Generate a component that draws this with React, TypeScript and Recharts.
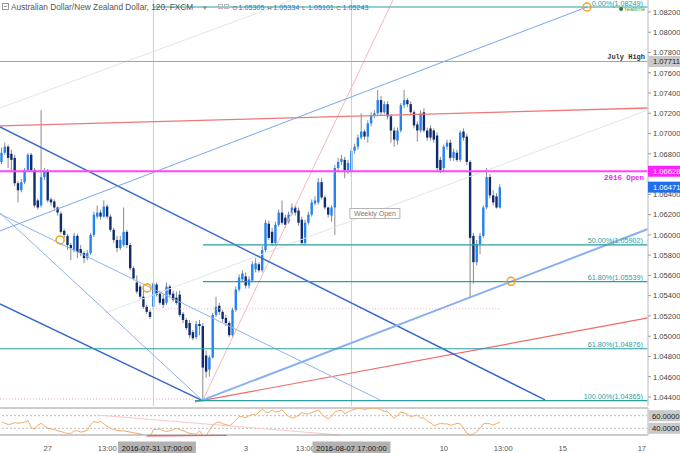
import React from 'react';
import { ComposedChart, LineChart, Bar, Line, XAxis, YAxis, ReferenceLine, ReferenceDot } from 'recharts';

const OPEN = [1.0672,1.0681,1.0687,1.0680,1.0676,1.0651,1.0644,1.0652,1.0664,1.0679,
1.0664,1.0634,1.0629,1.0657,1.0663,1.0635,1.0633,1.0627,1.0621,1.0604,
1.0599,1.0590,1.0585,1.0599,1.0586,1.0582,1.0577,1.0582,1.0600,1.0618,
1.0622,1.0618,1.0628,1.0618,1.0605,1.0595,1.0587,1.0590,1.0603,1.0590,
1.0567,1.0553,1.0549,1.0539,1.0529,1.0524,1.0529,1.0551,1.0542,1.0537,
1.0533,1.0549,1.0542,1.0538,1.0541,1.0522,1.0516,1.0513,1.0504,1.0499,
1.0512,1.0510,1.0481,1.0467,1.0479,1.0521,1.0530,1.0524,1.0518,1.0513,
1.0501,1.0526,1.0546,1.0556,1.0559,1.0550,1.0555,1.0566,1.0571,1.0565,
1.0585,1.0611,1.0603,1.0592,1.0610,1.0622,1.0617,1.0613,1.0621,1.0627,
1.0624,1.0615,1.0592,1.0612,1.0620,1.0631,1.0632,1.0652,1.0637,1.0627,
1.0619,1.0627,1.0666,1.0672,1.0674,1.0664,1.0662,1.0683,1.0687,1.0696,
1.0702,1.0697,1.0710,1.0718,1.0720,1.0733,1.0721,1.0729,1.0717,1.0703,
1.0693,1.0703,1.0728,1.0733,1.0729,1.0721,1.0709,1.0703,1.0721,1.0703,
1.0705,1.0703,1.0698,1.0674,1.0666,1.0687,1.0691,1.0676,1.0681,1.0674,
1.0702,1.0697,1.0672,1.0599,1.0573,1.0591,1.0599,1.0627,1.0657,1.0639,
1.0638,1.0627];

const HIGH = [1.0686,1.0691,1.0689,1.0684,1.0679,1.0653,1.0655,1.0666,1.0681,1.0681,
1.0666,1.0636,1.0723,1.0666,1.0665,1.0637,1.0635,1.0628,1.0623,1.0606,
1.0601,1.0592,1.0602,1.0601,1.0590,1.0584,1.0585,1.0602,1.0623,1.0629,
1.0625,1.0634,1.0630,1.0620,1.0607,1.0599,1.0599,1.0627,1.0605,1.0592,
1.0569,1.0560,1.0551,1.0548,1.0531,1.0526,1.0554,1.0553,1.0545,1.0541,
1.0553,1.0551,1.0545,1.0544,1.0545,1.0524,1.0518,1.0516,1.0506,1.0515,
1.0516,1.0513,1.0486,1.0481,1.0523,1.0539,1.0533,1.0526,1.0521,1.0515,
1.0528,1.0549,1.0561,1.0565,1.0563,1.0559,1.0574,1.0577,1.0573,1.0589,
1.0615,1.0614,1.0607,1.0613,1.0625,1.0634,1.0620,1.0623,1.0631,1.0629,
1.0627,1.0618,1.0615,1.0623,1.0635,1.0638,1.0656,1.0656,1.0639,1.0628,
1.0629,1.0669,1.0676,1.0679,1.0677,1.0674,1.0686,1.0690,1.0699,1.0720,
1.0704,1.0713,1.0721,1.0723,1.0743,1.0737,1.0732,1.0732,1.0719,1.0706,
1.0706,1.0730,1.0743,1.0735,1.0732,1.0723,1.0712,1.0723,1.0725,1.0706,
1.0708,1.0705,1.0701,1.0677,1.0689,1.0694,1.0694,1.0685,1.0684,1.0703,
1.0705,1.0700,1.0674,1.0602,1.0595,1.0602,1.0629,1.0666,1.0660,1.0644,
1.0641,1.0650];

const LOW = [1.0670,1.0679,1.0666,1.0662,1.0648,1.0632,1.0642,1.0650,1.0663,1.0662,
1.0627,1.0625,1.0627,1.0654,1.0632,1.0629,1.0625,1.0619,1.0601,1.0597,
1.0585,1.0575,1.0583,1.0577,1.0579,1.0572,1.0575,1.0580,1.0598,1.0616,
1.0615,1.0617,1.0616,1.0603,1.0592,1.0583,1.0585,1.0588,1.0587,1.0565,
1.0555,1.0542,1.0537,1.0527,1.0522,1.0517,1.0526,1.0539,1.0531,1.0528,
1.0531,1.0539,1.0534,1.0531,1.0519,1.0513,1.0506,1.0498,1.0496,1.0497,
1.0501,1.0436,1.0459,1.0460,1.0478,1.0519,1.0521,1.0514,1.0510,1.0499,
1.0499,1.0524,1.0544,1.0553,1.0547,1.0547,1.0553,1.0563,1.0563,1.0563,
1.0583,1.0595,1.0589,1.0590,1.0608,1.0610,1.0607,1.0611,1.0619,1.0619,
1.0609,1.0590,1.0590,1.0610,1.0618,1.0629,1.0630,1.0635,1.0625,1.0617,
1.0613,1.0600,1.0663,1.0669,1.0656,1.0660,1.0657,1.0680,1.0684,1.0694,
1.0694,1.0691,1.0707,1.0715,1.0717,1.0718,1.0719,1.0714,1.0691,1.0687,
1.0689,1.0701,1.0725,1.0726,1.0718,1.0705,1.0692,1.0701,1.0701,1.0693,
1.0693,1.0691,1.0662,1.0661,1.0663,1.0684,1.0673,1.0673,1.0672,1.0672,
1.0693,1.0669,1.0538,1.0552,1.0570,1.0581,1.0597,1.0625,1.0636,1.0629,
1.0626,1.0626];

const CLOSE = [1.0681,1.0687,1.0676,1.0674,1.0651,1.0644,1.0652,1.0664,1.0679,1.0664,
1.0629,1.0627,1.0657,1.0663,1.0634,1.0632,1.0627,1.0622,1.0603,1.0600,
1.0590,1.0587,1.0599,1.0583,1.0582,1.0577,1.0582,1.0600,1.0620,1.0622,
1.0618,1.0628,1.0618,1.0605,1.0595,1.0587,1.0595,1.0603,1.0590,1.0567,
1.0557,1.0544,1.0539,1.0529,1.0524,1.0519,1.0552,1.0541,1.0533,1.0531,
1.0549,1.0541,1.0536,1.0533,1.0521,1.0516,1.0508,1.0501,1.0498,1.0512,
1.0510,1.0469,1.0465,1.0479,1.0521,1.0529,1.0524,1.0517,1.0513,1.0501,
1.0526,1.0546,1.0558,1.0562,1.0550,1.0556,1.0571,1.0572,1.0565,1.0585,
1.0612,1.0597,1.0592,1.0610,1.0622,1.0612,1.0610,1.0620,1.0627,1.0622,
1.0612,1.0592,1.0612,1.0620,1.0632,1.0634,1.0652,1.0637,1.0627,1.0620,
1.0627,1.0666,1.0672,1.0675,1.0664,1.0671,1.0683,1.0687,1.0696,1.0702,
1.0697,1.0710,1.0718,1.0720,1.0733,1.0721,1.0729,1.0717,1.0703,1.0694,
1.0703,1.0728,1.0733,1.0729,1.0721,1.0708,1.0703,1.0720,1.0703,1.0696,
1.0696,1.0694,1.0666,1.0664,1.0687,1.0691,1.0676,1.0682,1.0674,1.0701,
1.0696,1.0672,1.0597,1.0573,1.0591,1.0599,1.0627,1.0657,1.0639,1.0632,
1.0627,1.0647];

const RSI = [50,48,46,47,49,48,49,50,52,41,
39,45,48,44,40,39,38,36,35,33,
32,32,36,36,34,35,37,46,51,49,
51,47,43,40,38,37,36,36,35,34,
33,32,31,29,28,26,38,38,39,36,
35,36,38,40,38,36,34,32,31,31,
36,28,29,37,45,49,50,47,46,44,
48,53,59,58,57,60,62,61,66,70,
66,65,69,66,67,69,63,59,56,58,
61,65,63,63,65,67,69,62,58,55,
59,66,68,69,63,66,69,70,72,71,
70,71,72,72,72,69,67,66,61,56,
61,66,64,62,58,60,61,56,57,51,
49,44,46,48,47,47,45,46,48,47,
40,32,29.5,31,35,40,47,48,47,45,
48,49];

const PRICE_TICKS = [1.044,1.046,1.048,1.05,1.052,1.054,1.056,1.058,1.06,1.062,1.064,1.066,1.068,1.07,1.072,1.074,1.076,1.078,1.08,1.082];
const TAG_PRICES = [1.07711, 1.06628, 1.06471];
const TAG_NAMES = ['july', 'open2016', 'last'];
const TIME_TICKS = [14, 32, 46, 74, 92, 106, 134, 152, 170, 194];
const TIME_LABELS = ['27', '13:00', '2016-07-31 17:00:00', '3', '13:00', '2016-08-07 17:00:00', '10', '13:00', '15', '17'];
const HIGHLIGHTED_TICKS = [46, 106];
const HEADER_OHLC_LETTERS = ['O', 'H', 'L', 'C'];
const HEADER_OHLC_VALUES = ['1.05305', '1.05334', '1.05101', '1.05243'];

const X_DOMAIN: [number, number] = [-0.5, 195.86];
const Y_DOMAIN: [number, number] = [1.04311, 1.08318];
const RSI_DOMAIN: [number, number] = [29.4, 72.2];

const data = CLOSE.map((c, i) => ({ i, o: OPEN[i], h: HIGH[i], l: LOW[i], c, rsi: RSI[i] }));

const FONT = 'Arial, "Liberation Sans", sans-serif';
const MONO = '"Liberation Mono", "DejaVu Sans Mono", monospace';
const BULL = '#2383f2';
const BEAR = '#0f2d6e';
const TEAL = '#2a9ea3';
const TAG_STYLE: Record<string, { bg: string; fg: string }> = {
  july: { bg: '#c9c9c9', fg: '#222' },
  open2016: { bg: '#ff22ff', fg: '#fff' },
  last: { bg: '#1f6fec', fg: '#fff' },
};

const Candle = (props: any) => {
  const { x, y, width, height } = props;
  const p = props.payload || props;
  const top = Math.min(y, y + height);
  const bot = Math.max(y, y + height);
  const span = p.h - p.l || 1e-9;
  const py = (v: number) => top + ((p.h - v) / span) * (bot - top);
  const cx = x + width / 2;
  const up = p.c >= p.o;
  const b1 = py(Math.max(p.o, p.c));
  const b2 = py(Math.min(p.o, p.c));
  return (
    <g>
      <line x1={cx} x2={cx} y1={top} y2={bot} stroke="#8a8a8a" strokeWidth={1} />
      <rect x={cx - 1.2} y={b1} width={2.4} height={Math.max(1, b2 - b1)} fill={up ? BULL : BEAR} />
    </g>
  );
};

const PriceTick = (props: any) => {
  const { x, y, payload } = props;
  const v = payload.value;
  const t = TAG_PRICES.indexOf(v);
  if (t >= 0) {
    const s = TAG_STYLE[TAG_NAMES[t]];
    return (
      <g>
        <rect x={x - 5} y={y - 5.5} width={38} height={11} fill={s.bg} />
        <text x={x} y={y + 2.8} fontSize={7.6} fontFamily={FONT} fill={s.fg}>{v.toFixed(5)}</text>
      </g>
    );
  }
  if (TAG_PRICES.some((tp) => Math.abs(tp - v) < 0.0005)) return <g />;
  return <text x={x} y={y + 2.8} fontSize={7.6} fontFamily={FONT} fill="#444">{v.toFixed(5)}</text>;
};

const AxisTag = (props: any) => {
  const { viewBox, text, bg, fg } = props;
  if (!viewBox) return null;
  const x0 = viewBox.x + viewBox.width;
  const y = viewBox.y;
  return (
    <g>
      <rect x={x0} y={y - 5.5} width={34} height={11} fill={bg} />
      <text x={x0 + 4} y={y + 3} fontSize={7.6} fontFamily={FONT} fill={fg}>{text}</text>
    </g>
  );
};

const LineText = (props: any) => {
  const { viewBox, text, color, dy, size, bold, family, dx } = props;
  if (!viewBox) return null;
  return (
    <text x={viewBox.x + viewBox.width - (dx ?? 5)} y={viewBox.y + dy} textAnchor="end" fontSize={size}
      fontWeight={bold ? 'bold' : 'normal'} fontFamily={family || FONT} fill={color}>{text}</text>
  );
};

const TimeTick = (props: any) => {
  const { x, payload } = props;
  const idx = TIME_TICKS.indexOf(payload.value);
  const label = TIME_LABELS[idx];
  if (HIGHLIGHTED_TICKS.includes(payload.value)) {
    const shift = idx === 2 ? 3.5 : 0;
    return (
      <g>
        <rect x={x + shift - 39} y={35.5} width={78} height={11.5} fill="#b2b2b2" />
        <text x={x + shift} y={44.5} textAnchor="middle" fontSize={7.6} fontFamily={FONT} fill="#1a1a1a">{label}</text>
      </g>
    );
  }
  return <text x={x} y={44.5} textAnchor="middle" fontSize={7.6} fontFamily={FONT} fill="#555">{label}</text>;
};

const WeeklyOpen = (props: any) => {
  const { cx, cy } = props;
  return (
    <g>
      <rect x={cx - 25} y={cy - 5} width={50} height={10} fill="#fff" stroke="#b5b5b5" strokeWidth={1} />
      <text x={cx} y={cy + 2.6} textAnchor="middle" fontSize={7} fontFamily={FONT} fill="#7a7a7a">Weekly Open</text>
    </g>
  );
};

const Realtime = (props: any) => {
  const { cx, cy } = props;
  return (
    <g>
      <circle cx={cx} cy={cy} r={2} fill="#2e7d32" />
      <text x={cx + 3.5} y={cy + 2} fontSize={5.8} fontFamily={FONT} fill="#43a047">realtime</text>
    </g>
  );
};

const seg = (x1: number, y1: number, x2: number, y2: number) => [{ x: x1, y: y1 }, { x: x2, y: y2 }];

export default function App() {
  return (
    <div style={{ position: 'fixed', left: 0, top: 0, width: 680, height: 453, background: '#fff', overflow: 'hidden' }}>
      <ComposedChart width={680} height={406} data={data} margin={{ top: 0, right: 0, left: 0, bottom: 0 }}>
        <XAxis type="number" dataKey="i" domain={X_DOMAIN} allowDataOverflow hide />
        <YAxis orientation="right" width={32} domain={Y_DOMAIN} allowDataOverflow ticks={[...PRICE_TICKS, ...TAG_PRICES]} interval={0}
          tick={(p: any) => <PriceTick {...p} />}
          tickSize={3} tickMargin={2} tickLine={{ stroke: '#999' }} axisLine={{ stroke: '#d0d0d0', strokeWidth: 1.5 }} />

        <ReferenceLine x={46} stroke="#cfcfcf" />
        <ReferenceLine x={106} stroke="#cfcfcf" />

        <ReferenceLine segment={seg(-0.5, 1.07252, 88.3, 1.08318)} stroke="#dce8e6" ifOverflow="visible" />
        <ReferenceLine segment={seg(31.3, 1.05229, 195.86, 1.07233)} stroke="#dce8e6" ifOverflow="visible" />
        <ReferenceLine segment={seg(61, 1.04371, 118.6, 1.08318)} stroke="#f8b8b8" ifOverflow="visible" />
        <ReferenceLine segment={seg(-0.5, 1.0438, 58.6, 1.0438)} stroke="#eab0c8" strokeDasharray="1 2" ifOverflow="visible" />
        <ReferenceLine segment={seg(45, 1.0527, 151, 1.0527)} stroke="#eab0c8" strokeDasharray="1 2" ifOverflow="visible" />

        <ReferenceLine segment={seg(-0.5, 1.07075, 195.86, 1.07252)} stroke="#f07878" strokeWidth={1.3} ifOverflow="visible" />
        <ReferenceLine segment={seg(58.6, 1.04351, 195.86, 1.0518)} stroke="#f06a6a" strokeWidth={1.2} ifOverflow="visible" />

        <ReferenceLine segment={seg(-0.5, 1.07065, 164.65, 1.04371)} stroke="#3566cc" strokeWidth={1.4} ifOverflow="visible" />
        <ReferenceLine segment={seg(-0.5, 1.05318, 61, 1.04361)} stroke="#3566cc" strokeWidth={1.4} ifOverflow="visible" />
        <ReferenceLine segment={seg(-0.5, 1.06216, 61, 1.04361)} stroke="#8fb3e8" strokeWidth={1} ifOverflow="visible" />
        <ReferenceLine segment={seg(-0.5, 1.06206, 114.65, 1.04371)} stroke="#8fb3e8" strokeWidth={1} ifOverflow="visible" />
        <ReferenceLine segment={seg(-0.5, 1.06039, 177.38, 1.08249)} stroke="#7aa6ea" strokeWidth={1} ifOverflow="visible" />
        <ReferenceLine segment={seg(61, 1.04371, 195.86, 1.06058)} stroke="#8ab0f0" strokeWidth={2} ifOverflow="visible" />

        <ReferenceLine segment={seg(46, 1.08249, 195.86, 1.08249)} stroke={TEAL} strokeWidth={1.2} ifOverflow="visible"
          label={<LineText text="0.00%(1.08249)" color={TEAL} dy={-1.5} size={7.2} />} />
        <ReferenceLine y={1.07711} stroke="#a5a5a5" ifOverflow="visible"
          label={<LineText text="July High" color="#333" dy={-2.5} size={7} bold family={MONO} dx={3} />} />
        <ReferenceLine y={1.06628} stroke="#ff44ff" strokeWidth={2} ifOverflow="visible"
          label={<LineText text="2016 Open" color="#ee22ee" dy={8.5} size={7.4} bold family={MONO} dx={4} />} />

        <ReferenceLine segment={seg(61, 1.05902, 195.86, 1.05902)} stroke={TEAL} strokeWidth={1.2} ifOverflow="visible"
          label={<LineText text="50.00%(1.05902)" color={TEAL} dy={-2} size={7.2} />} />
        <ReferenceLine segment={seg(61, 1.05539, 195.86, 1.05539)} stroke={TEAL} strokeWidth={1.2} ifOverflow="visible"
          label={<LineText text="61.80%(1.05539)" color={TEAL} dy={-2} size={7.2} />} />
        <ReferenceLine y={1.04876} stroke={TEAL} strokeWidth={1.2} ifOverflow="visible"
          label={<LineText text="61.80%(1.04876)" color={TEAL} dy={-2} size={7.2} />} />
        <ReferenceLine segment={seg(58.6, 1.04365, 195.86, 1.04365)} stroke={TEAL} strokeWidth={1.2} ifOverflow="visible"
          label={<LineText text="100.00%(1.04365)" color={TEAL} dy={-2} size={7.2} />} />

        <Bar dataKey={(d: any) => [d.l, d.h]} barSize={3} isAnimationActive={false} shape={(p: any) => <Candle {...p} />} />

        <ReferenceDot x={17.7} y={1.0595} r={4} fill="none" stroke="#f5a020" strokeWidth={1.5} ifOverflow="visible" />
        <ReferenceDot x={44.05} y={1.05476} r={4} fill="none" stroke="#f5a020" strokeWidth={1.5} ifOverflow="visible" />
        <ReferenceDot x={154.35} y={1.05542} r={4} fill="none" stroke="#f5a020" strokeWidth={1.5} ifOverflow="visible" />
        <ReferenceDot x={177.38} y={1.08249} r={4} fill="none" stroke="#f5a020" strokeWidth={1.5} ifOverflow="visible" />
        <ReferenceDot x={113.1} y={1.06211} ifOverflow="visible" shape={(p: any) => <WeeklyOpen {...p} />} />
        <ReferenceDot x={187.7} y={1.08229} ifOverflow="visible" shape={(p: any) => <Realtime {...p} />} />
      </ComposedChart>

      <LineChart width={680} height={47} data={data} margin={{ top: 2, right: 0, left: 0, bottom: 0 }}>
        <XAxis type="number" dataKey="i" domain={X_DOMAIN} allowDataOverflow ticks={TIME_TICKS} interval={0}
          tick={(p: any) => <TimeTick {...p} />} tickLine={false} axisLine={{ stroke: '#9a9a9a' }} height={18} />
        <YAxis orientation="right" width={32} domain={RSI_DOMAIN} allowDataOverflow tick={false} tickLine={false}
          axisLine={{ stroke: '#d0d0d0', strokeWidth: 1.5 }} />
        <ReferenceLine y={72.2} stroke="#9a9a9a" ifOverflow="visible" />
        <ReferenceLine y={60} stroke="#bdbdbd" strokeDasharray="2 2" ifOverflow="visible"
          label={<AxisTag text="60.0000" bg="#c9c9c9" fg="#222" />} />
        <ReferenceLine y={40} stroke="#bdbdbd" strokeDasharray="2 2" ifOverflow="visible"
          label={<AxisTag text="40.0000" bg="#c9c9c9" fg="#222" />} />
        <ReferenceLine segment={seg(28.9, 61, 102.5, 29.4)} stroke="#f9c8c8" ifOverflow="visible" />
        <ReferenceLine segment={seg(43.95, 28.2, 68.2, 28.9)} stroke="#f05050" strokeWidth={1.3} ifOverflow="visible" />
        <Line type="linear" dataKey="rsi" stroke="#f5aa64" strokeWidth={1} dot={false} isAnimationActive={false} />
      </LineChart>

      <svg width={680} height={14} style={{ position: 'absolute', left: 0, top: 0 }}>
        <rect x={2.5} y={3.5} width={6} height={6} fill="none" stroke="#999" />
        <line x1={4} x2={7} y1={6.5} y2={6.5} stroke="#999" />
        <text x={11} y={10} fontSize={8.3} fontFamily={FONT} fill="#555">Australian Dollar/New Zealand Dollar, 120, FXCM</text>
        <text x={203} y={9.5} fontSize={6.5} fontFamily={FONT} fill="#888">▾</text>
        <rect x={218.5} y={4.5} width={4} height={4} fill="none" stroke="#bbb" />
        <rect x={224.5} y={4.5} width={4} height={4} fill="none" stroke="#bbb" />
        {HEADER_OHLC_LETTERS.map((letter, k) => (
          <g key={letter}>
            <text x={232.5 + k * 34.7} y={9.5} fontSize={6} fontFamily={FONT} fill="#666">{letter}</text>
            <text x={238.5 + k * 34.7} y={9.5} fontSize={7.2} fontFamily={FONT} fill="#2a6fd6">{HEADER_OHLC_VALUES[k]}</text>
          </g>
        ))}
      </svg>
    </div>
  );
}
